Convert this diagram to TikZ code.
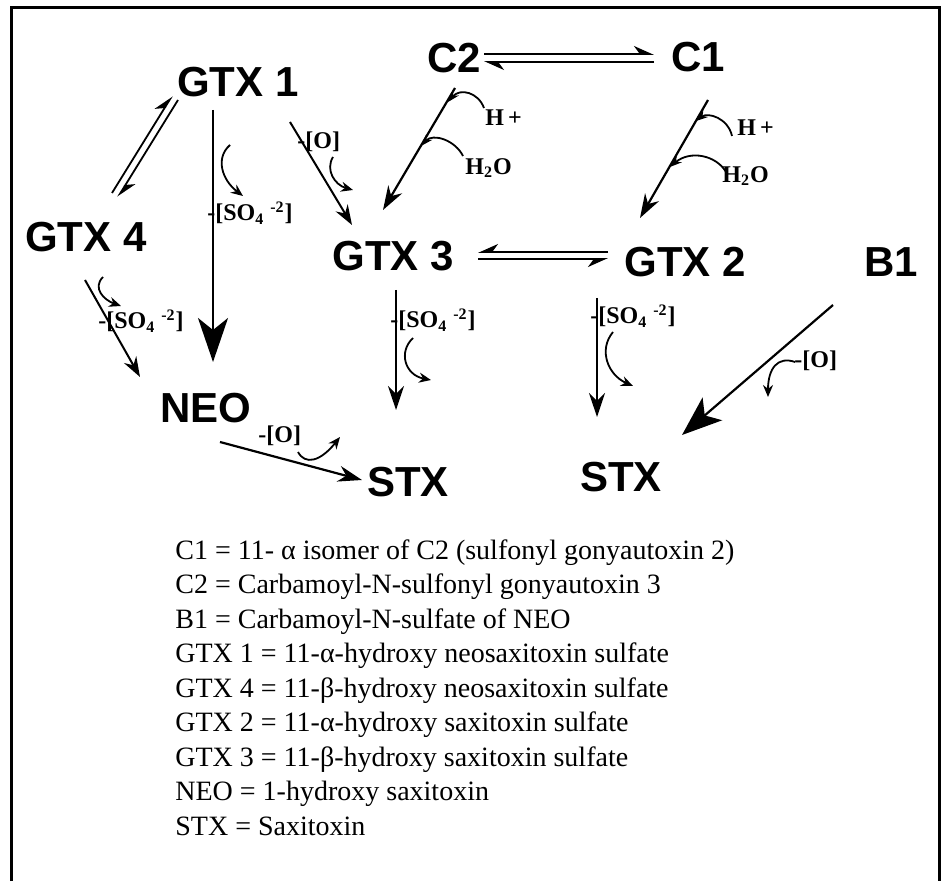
\documentclass[tikz,border=0pt]{standalone}
\usepackage{fontspec}
\setmainfont{Liberation Serif}
\newfontfamily\hdfont{Liberation Sans}
\usetikzlibrary{arrows.meta}
\begin{document}
\begin{tikzpicture}[x=0.5pt,y=-0.5pt,
  cmpd/.style={font=\hdfont\bfseries\fontsize{21}{24}\selectfont, inner sep=0pt},
  lbl/.style={font=\bfseries\fontsize{12}{14}\selectfont, inner sep=0pt, anchor=west},
  leg/.style={font=\fontsize{14}{17}\selectfont, inner sep=0pt, anchor=base west},
  rx/.style={line width=1pt, -{Stealth[length=10pt,width=7pt]}},
  midrx/.style={line width=1.1pt, -{Stealth[length=12pt,width=8pt]}},
  bigrx/.style={line width=1.1pt, -{Stealth[length=20pt,width=15pt,inset=5pt]}},
  side/.style={line width=0.9pt, -{Stealth[length=6pt,width=5pt]}},
  reag/.style={line width=0.9pt, -{Stealth[length=6pt,width=4pt]}},
  harp/.style={line width=0.9pt, -{Stealth[harpoon,length=9pt,width=8pt]}},
  harps/.style={line width=0.9pt, -{Stealth[harpoon,swap,length=9pt,width=8pt]}},
  frame/.style={line width=1.5pt}
]
\useasboundingbox (0,0) rectangle (945,881);
\fill[white] (0,0) rectangle (945,881);
\draw[frame] (11,881) -- (11,8) -- (939,8) -- (939,881);

% compounds
\node[cmpd] (gtx1) at (238,82) {GTX 1};
\node[cmpd] (gtx4) at (86,237) {GTX 4};
\node[cmpd] (c2) at (454,58) {C2};
\node[cmpd] (c1) at (698,57) {C1};
\node[cmpd] (gtx3) at (393,256) {GTX 3};
\node[cmpd] (gtx2) at (685,262) {GTX 2};
\node[cmpd] (b1) at (891,262) {B1};
\node[cmpd] (neo) at (206,408) {NEO};
\node[cmpd] (stxl) at (408,482) {STX};
\node[cmpd] (stxr) at (621,477) {STX};

% connector end points
\coordinate (c2c1a) at (484,54);  \coordinate (c2c1b) at (654,54);
\coordinate (c1c2a) at (654,62);  \coordinate (c1c2b) at (484,62);
\coordinate (g3g2a) at (608,252); \coordinate (g3g2b) at (478,252);
\coordinate (g2g3a) at (478,259); \coordinate (g2g3b) at (608,259);
\coordinate (g4g1a) at (112,193); \coordinate (g4g1b) at (172,96);
\coordinate (g1g4a) at (178,100); \coordinate (g1g4b) at (118,197);
\coordinate (g1n) at (213,110);   \coordinate (ng1) at (213,362);
\coordinate (g4n) at (85,280);    \coordinate (ng4) at (140,377);
\coordinate (g1g3) at (290,122);  \coordinate (g3g1) at (352,225);
\coordinate (c2g3) at (455,88);   \coordinate (g3c2) at (383,210);
\coordinate (c1g2) at (708,100);  \coordinate (g2c1) at (640,218);
\coordinate (g3s) at (396,290);   \coordinate (sg3) at (396,410);
\coordinate (g2s) at (597,298);   \coordinate (sg2) at (597,417);
\coordinate (b1s) at (833,305);   \coordinate (sb1) at (682,435);
\coordinate (ns) at (220,442);    \coordinate (sn) at (362,480);

% equilibria
\draw[harp] (c2c1a) -- (c2c1b);
\draw[harp] (c1c2a) -- (c1c2b);
\draw[harps] (g3g2a) -- (g3g2b);
\draw[harps] (g2g3a) -- (g2g3b);
\draw[harp] (g4g1a) -- (g4g1b);
\draw[harp] (g1g4a) -- (g1g4b);

% main reactions
\draw[line width=1.1pt, -{Stealth[length=22pt,width=15pt,inset=6pt]}] (g1n) -- (ng1);
\draw[rx] (g4n) -- (ng4);
\draw[rx] (g1g3) -- (g3g1);
\draw[midrx] (c2g3) -- (g3c2);
\draw[midrx] (c1g2) -- (g2c1);
\draw[midrx] (g3s) -- (sg3);
\draw[midrx] (g2s) -- (sg2);
\draw[bigrx] (b1s) -- (sb1);
\draw[midrx] (ns) -- (sn);

% side (loss) arrows
\draw[side] (230,145) .. controls (215,158) and (222,180) .. (243,196);
\draw[side] (103,277) .. controls (92,288) and (104,300) .. (121,306);
\draw[side] (333,157) .. controls (325,170) and (335,185) .. (353,190);
\draw[side] (413,338) .. controls (398,352) and (405,375) .. (431,380);
\draw[side] (613,332) .. controls (598,350) and (608,375) .. (633,386);
\draw[side] (795,362) .. controls (778,356) and (768,368) .. (768,397);
\draw[side] (298,452) .. controls (305,465) and (320,462) .. (340,437);

% reagent arrows
\draw[reag] (484,108) .. controls (478,92) and (460,88) .. (448,102);
\draw[reag] (463,156) .. controls (455,140) and (433,133) .. (421,146);
\draw[reag] (732,136) .. controls (728,118) and (708,112) .. (696,121);
\draw[reag] (726,172) .. controls (716,155) and (690,150) .. (670,167);

% labels
\node[lbl] (l1) at (207,213) {-[SO\textsubscript{4} \textsuperscript{-2}]};
\node[lbl] (l2) at (98,321) {-[SO\textsubscript{4} \textsuperscript{-2}]};
\node[lbl] (l3) at (297,142) {-[O]};
\node[lbl] (l4) at (390,320) {-[SO\textsubscript{4} \textsuperscript{-2}]};
\node[lbl] (l5) at (590,316) {-[SO\textsubscript{4} \textsuperscript{-2}]};
\node[lbl] (l6) at (794,361) {-[O]};
\node[lbl] (l7) at (258,436) {-[O]};
\node[lbl] (h1) at (485,118) {H\,+};
\node[lbl] (w1) at (465,168) {H\textsubscript{2}O};
\node[lbl] (h2) at (737,128) {H\,+};
\node[lbl] (w2) at (722,176) {H\textsubscript{2}O};

% legend
\node[leg] (leg1) at (175,559) {C1 = 11- α isomer of C2 (sulfonyl gonyautoxin 2)};
\node[leg] (leg2) at (175,593.5) {C2 = Carbamoyl-N-sulfonyl gonyautoxin 3};
\node[leg] (leg3) at (175,628) {B1 = Carbamoyl-N-sulfate of NEO};
\node[leg] (leg4) at (175,662.5) {GTX 1 = 11-α-hydroxy neosaxitoxin sulfate};
\node[leg] (leg5) at (175,697) {GTX 4 = 11-β-hydroxy neosaxitoxin sulfate};
\node[leg] (leg6) at (175,731.5) {GTX 2 = 11-α-hydroxy saxitoxin sulfate};
\node[leg] (leg7) at (175,766) {GTX 3 = 11-β-hydroxy saxitoxin sulfate};
\node[leg] (leg8) at (175,800.5) {NEO = 1-hydroxy saxitoxin};
\node[leg] (leg9) at (175,835) {STX = Saxitoxin};
\end{tikzpicture}
\end{document}
